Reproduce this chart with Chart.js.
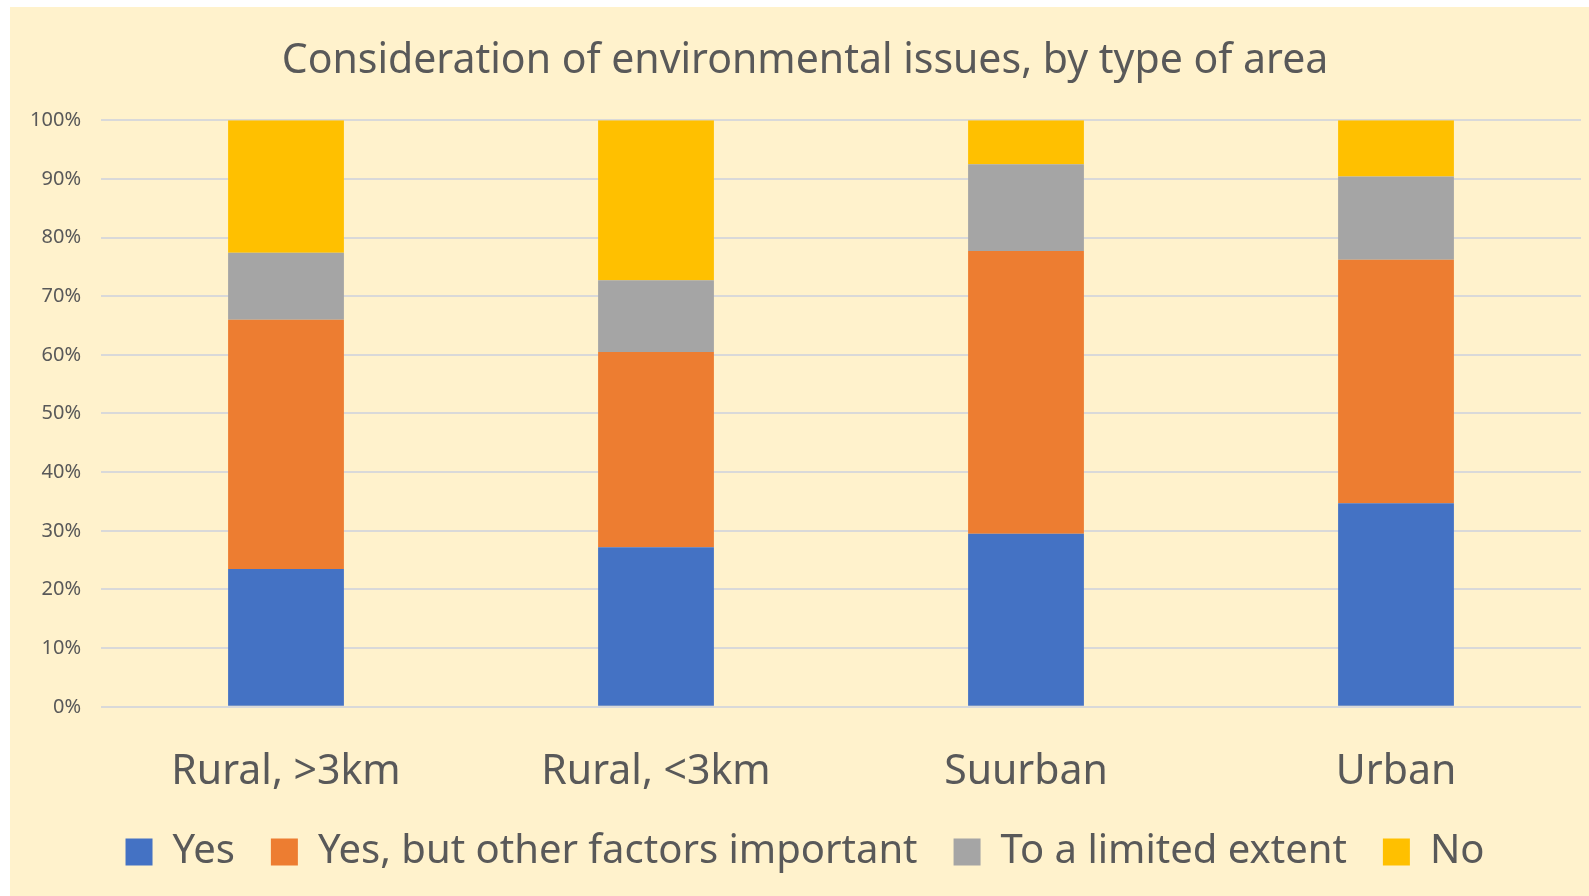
<!DOCTYPE html>
<html>
<head>
<meta charset="utf-8">
<script src="https://cdn.jsdelivr.net/npm/chart.js@4"></script>
<style>
    html, body { margin: 0; padding: 0; background: #ffffff; }
    #wrap { position: absolute; left: 10px; top: 7px; width: 1579px; height: 889px; background: #FFF2CC; }
</style>
</head>
<body>
<div id="wrap"><canvas id="areaChart"></canvas></div>
<script>
const categories = ['Rural, >3km', 'Rural, <3km', 'Suurban', 'Urban'];
const yesValues = [23.5, 27.2, 29.5, 34.7];
const yesButValues = [42.5, 33.3, 48.2, 41.5];
const limitedValues = [11.4, 12.2, 14.8, 14.2];
const noValues = [22.6, 27.3, 7.5, 9.6];

const textColor = '#595959';
const fontFamily = "'Noto Sans', 'Open Sans', sans-serif";

document.addEventListener('DOMContentLoaded', function() {
    const ctx = document.getElementById('areaChart').getContext('2d');
    new Chart(ctx, {
        type: 'bar',
        data: {
            labels: categories,
            datasets: [
                { label: 'Yes', data: yesValues, backgroundColor: '#4472C4' },
                { label: 'Yes, but other factors important', data: yesButValues, backgroundColor: '#ED7D31' },
                { label: 'To a limited extent', data: limitedValues, backgroundColor: '#A5A5A5' },
                { label: 'No', data: noValues, backgroundColor: '#FFC000' }
            ]
        },
        options: {
            responsive: true,
            maintainAspectRatio: false,
            animation: false,
            layout: { padding: { left: 19, right: 8, top: 10, bottom: 14 } },
            datasets: {
                bar: { categoryPercentage: 1, barPercentage: 0.313, borderWidth: 0 }
            },
            scales: {
                x: {
                    stacked: true,
                    // shrink the axis box so the labels sit close to the legend
                    afterFit: function(scale) { scale.height -= 34; },
                    grid: { display: false },
                    border: { display: false },
                    ticks: { color: textColor, font: { family: fontFamily, size: 41 }, padding: 33, maxRotation: 0 }
                },
                y: {
                    stacked: true,
                    min: 0,
                    max: 100,
                    afterFit: function(scale) { scale.width = 72; },
                    grid: { color: '#D9D9D9', lineWidth: 2, drawTicks: false },
                    border: { display: false },
                    ticks: {
                        stepSize: 10,
                        color: textColor,
                        padding: 20,
                        font: { family: fontFamily, size: 20 },
                        callback: function(v) { return v + '%'; }
                    }
                }
            },
            plugins: {
                title: {
                    display: true,
                    text: 'Consideration of environmental issues, by type of area',
                    color: textColor,
                    font: { family: fontFamily, size: 41, weight: 'normal' },
                    padding: { top: 20, bottom: 34 }
                },
                legend: {
                    position: 'bottom',
                    labels: {
                        color: textColor,
                        font: { family: fontFamily, size: 40 },
                        boxWidth: 27,
                        boxHeight: 27,
                        padding: 36
                    }
                },
                tooltip: { enabled: false }
            }
        }
    });
});
</script>
</body>
</html>
